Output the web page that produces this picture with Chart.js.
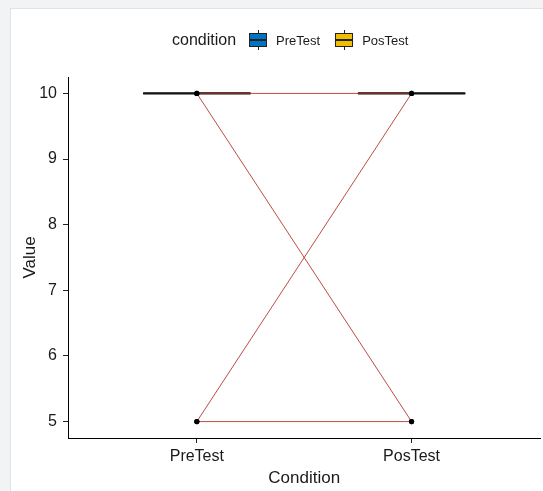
<!DOCTYPE html>
<html>
<head>
<meta charset="utf-8">
<script src="https://cdn.jsdelivr.net/npm/chart.js@4"></script>
<style>
  html, body { margin: 0; padding: 0; }
  body { width: 543px; height: 491px; background: #f2f3f5; position: relative; overflow: hidden;
         font-family: 'Liberation Sans', Arial, sans-serif; }
  .frame { position: absolute; left: 10px; top: 8px; right: 0; bottom: 0; background: #fff;
           border-left: 1px solid #dfe2e6; border-top: 1px solid #dfe2e6; }
  #wrap { position: absolute; left: 0; top: 0; width: 543px; height: 491px; }
  #legend { position: absolute; left: 172px; top: 30px; height: 20px; display: flex; align-items: center;
            color: #1a1a1a; white-space: nowrap; }
  #legend .ttl { font-size: 16px; margin-right: 13px; }
  #legend .item { display: flex; align-items: center; margin-right: 15px; font-size: 13px; }
  #legend .key { position: relative; width: 18px; height: 20px; margin-right: 9px; }
  #legend .key .bx { position: absolute; left: 0; top: 3px; width: 16px; height: 12px; border: 1px solid #222; }
  #legend .key .md { position: absolute; left: 0; top: 9px; width: 18px; height: 2px; background: #222; }
  #legend .key .wt, #legend .key .wb { position: absolute; left: 8.5px; width: 1px; height: 3px; background: #222; }
  #legend .key .wt { top: 0; }
  #legend .key .wb { top: 17px; }
</style>
</head>
<body>
<div class="frame"></div>
<div id="wrap"><canvas id="c" width="543" height="491"></canvas></div>
<div id="legend"></div>
<script>
// ---- data ----
var categories = ['PreTest', 'PosTest'];
var fills = ['#0073C2', '#EFC000'];
// paired subject values
var preValues = [10, 10, 5, 5];
var posValues = [10, 5, 10, 5];
// box statistics per condition (box collapses at 10)
var boxLow = [10, 10];
var boxQ1 = [10, 10];
var boxMedian = [10, 10];
var boxQ3 = [10, 10];
var boxHigh = [10, 10];
var yTicks = [5, 6, 7, 8, 9, 10];

var lineColor = 'rgba(178,45,40,0.85)';
var boxWidth = 0.5;

/* ---------- legend ---------- */
(function () {
  var lg = document.getElementById('legend');
  var html = '<span class="ttl">condition</span>';
  categories.forEach(function (c, i) {
    html += '<span class="item"><span class="key">' +
      '<span class="wt"></span><span class="bx" style="background:' + fills[i] + '"></span>' +
      '<span class="md"></span><span class="wb"></span></span>' + c + '</span>';
  });
  lg.innerHTML = html;
})();

/* ---------- box plugin (drawn under the paired lines) ---------- */
var boxPlugin = {
  id: 'boxes',
  beforeDatasetsDraw: function (chart) {
    var ctx = chart.ctx, x = chart.scales.x, y = chart.scales.y;
    categories.forEach(function (c, i) {
      var cx = i + 1;
      var l = x.getPixelForValue(cx - boxWidth / 2), r = x.getPixelForValue(cx + boxWidth / 2);
      var m = x.getPixelForValue(cx);
      ctx.save();
      ctx.strokeStyle = '#111';
      ctx.lineWidth = 1;
      // whiskers
      ctx.beginPath();
      ctx.moveTo(m, y.getPixelForValue(boxHigh[i])); ctx.lineTo(m, y.getPixelForValue(boxQ3[i]));
      ctx.moveTo(m, y.getPixelForValue(boxQ1[i])); ctx.lineTo(m, y.getPixelForValue(boxLow[i]));
      ctx.stroke();
      // box
      var t = y.getPixelForValue(boxQ3[i]), b = y.getPixelForValue(boxQ1[i]);
      ctx.fillStyle = fills[i];
      ctx.fillRect(l, t, r - l, b - t);
      ctx.strokeRect(l, t, r - l, b - t);
      // median
      ctx.lineWidth = 2.2;
      ctx.beginPath();
      ctx.moveTo(l, y.getPixelForValue(boxMedian[i])); ctx.lineTo(r, y.getPixelForValue(boxMedian[i]));
      ctx.stroke();
      ctx.restore();
    });
  }
};

var points = [];
preValues.forEach(function (v, i) {
  points.push({ x: 1, y: v });
  points.push({ x: 2, y: posValues[i] });
});

var datasets = [{
  type: 'scatter', data: points, backgroundColor: '#000', borderColor: '#000',
  pointRadius: 2.6, pointHoverRadius: 2.6, borderWidth: 0
}];
preValues.forEach(function (v, i) {
  datasets.push({
    type: 'line', data: [{ x: 1, y: v }, { x: 2, y: posValues[i] }],
    borderColor: lineColor, borderWidth: 1, pointRadius: 0, fill: false, tension: 0
  });
});

new Chart(document.getElementById('c'), {
  type: 'scatter',
  data: { datasets: datasets },
  plugins: [boxPlugin],
  options: {
    responsive: false, animation: false, events: [],
    layout: { padding: { left: 0, right: 2, top: 77, bottom: 0 } },
    plugins: { legend: { display: false }, tooltip: { enabled: false } },
    scales: {
      x: {
        type: 'linear', min: 0.4, max: 2.6,
        afterBuildTicks: function (s) { s.ticks = categories.map(function (c, i) { return { value: i + 1 }; }); },
        afterFit: function (s) { s.height = 53; },
        grid: { drawOnChartArea: false, color: '#222', tickLength: 5 },
        border: { color: '#000', width: 1 },
        ticks: { color: '#1a1a1a', font: { family: "'Liberation Sans', Arial", size: 16 }, padding: 4,
                 maxRotation: 0, callback: function (v) { return categories[v - 1]; } },
        title: { display: true, text: 'Condition', color: '#1a1a1a',
                 font: { family: "'Liberation Sans', Arial", size: 17 }, padding: { top: 0, bottom: 2 } }
      },
      y: {
        type: 'linear', min: 4.75, max: 10.25,
        afterBuildTicks: function (s) { s.ticks = yTicks.map(function (v) { return { value: v }; }); },
        afterFit: function (s) { s.width = 68; },
        grid: { drawOnChartArea: false, color: '#222', tickLength: 5 },
        border: { color: '#000', width: 1 },
        ticks: { color: '#1a1a1a', font: { family: "'Liberation Sans', Arial", size: 16 }, padding: 6 },
        title: { display: true, text: 'Value', color: '#1a1a1a',
                 font: { family: "'Liberation Sans', Arial", size: 17 }, padding: { top: 20, bottom: 0 } }
      }
    }
  }
});
</script>
</body>
</html>
